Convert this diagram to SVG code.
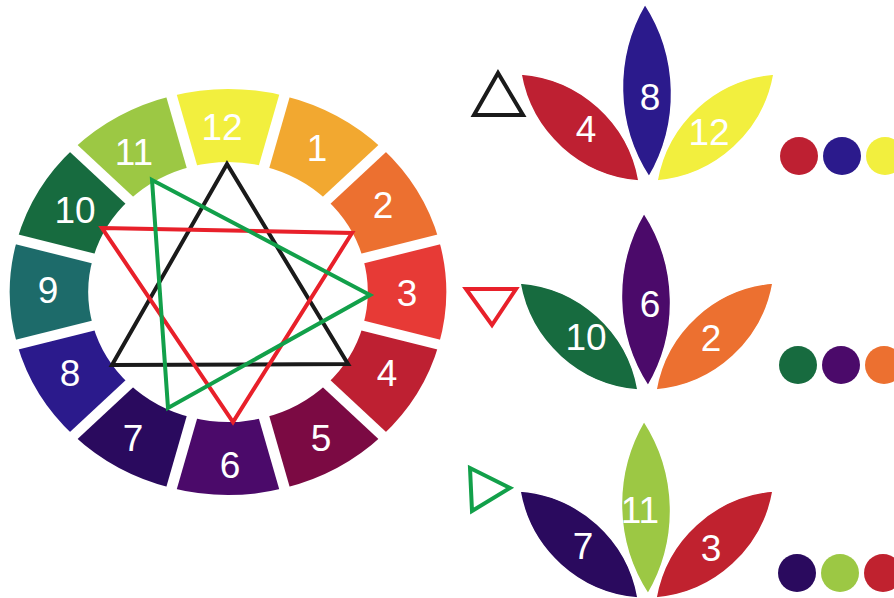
<svg xmlns="http://www.w3.org/2000/svg" width="894" height="598" viewBox="0 0 894 598">
<style>
.lbl{font-family:"Liberation Sans",Arial,sans-serif;font-size:37px;fill:#fff;text-anchor:middle}
.gap{stroke:#fff;stroke-width:10}
.tri{fill:none;stroke-width:4;stroke-linejoin:miter}
.petal{stroke:#fff;stroke-width:1.5}
</style>
<defs>
<path id="pc" d="M645,4 A165,165 0 0 1 649,177 A165,165 0 0 1 645,4Z"/>
<path id="pl" d="M521,74 A130,130 0 0 1 639,181 A130,130 0 0 1 521,74Z"/>
<path id="pr" d="M774,74 A130,130 0 0 1 657,181 A130,130 0 0 1 774,74Z"/>
</defs>
<rect width="894" height="598" fill="#fff"/>
<g id="wheel" transform="translate(228,292) scale(1.075,1)">
<g id="seg12"><path fill="#f2ef3e" d="M-52.54,-196.08 A203,203 0 0 1 52.54,-196.08 L33.65,-125.57 A130,130 0 0 0 -33.65,-125.57Z"/></g>
<g id="seg1"><path fill="#f2a830" d="M52.54,-196.08 A203,203 0 0 1 143.54,-143.54 L91.92,-91.92 A130,130 0 0 0 33.65,-125.57Z"/></g>
<g id="seg2"><path fill="#ec7030" d="M143.54,-143.54 A203,203 0 0 1 196.08,-52.54 L125.57,-33.65 A130,130 0 0 0 91.92,-91.92Z"/></g>
<g id="seg3"><path fill="#e73a36" d="M196.08,-52.54 A203,203 0 0 1 196.08,52.54 L125.57,33.65 A130,130 0 0 0 125.57,-33.65Z"/></g>
<g id="seg4"><path fill="#be2032" d="M196.08,52.54 A203,203 0 0 1 143.54,143.54 L91.92,91.92 A130,130 0 0 0 125.57,33.65Z"/></g>
<g id="seg5"><path fill="#7b0a43" d="M143.54,143.54 A203,203 0 0 1 52.54,196.08 L33.65,125.57 A130,130 0 0 0 91.92,91.92Z"/></g>
<g id="seg6"><path fill="#4b0a6a" d="M52.54,196.08 A203,203 0 0 1 -52.54,196.08 L-33.65,125.57 A130,130 0 0 0 33.65,125.57Z"/></g>
<g id="seg7"><path fill="#2a0a5e" d="M-52.54,196.08 A203,203 0 0 1 -143.54,143.54 L-91.92,91.92 A130,130 0 0 0 -33.65,125.57Z"/></g>
<g id="seg8"><path fill="#2b1a8c" d="M-143.54,143.54 A203,203 0 0 1 -196.08,52.54 L-125.57,33.65 A130,130 0 0 0 -91.92,91.92Z"/></g>
<g id="seg9"><path fill="#1d6b6a" d="M-196.08,52.54 A203,203 0 0 1 -196.08,-52.54 L-125.57,-33.65 A130,130 0 0 0 -125.57,33.65Z"/></g>
<g id="seg10"><path fill="#176b3f" d="M-196.08,-52.54 A203,203 0 0 1 -143.54,-143.54 L-91.92,-91.92 A130,130 0 0 0 -125.57,-33.65Z"/></g>
<g id="seg11"><path fill="#9cc844" d="M-143.54,-143.54 A203,203 0 0 1 -52.54,-196.08 L-33.65,-125.57 A130,130 0 0 0 -91.92,-91.92Z"/></g>
<g id="gaps">
<line class="gap" x1="-54.3" y1="-202.8" x2="54.3" y2="202.8"/>
<line class="gap" x1="54.3" y1="-202.8" x2="-54.3" y2="202.8"/>
<line class="gap" x1="148.5" y1="-148.5" x2="-148.5" y2="148.5"/>
<line class="gap" x1="202.8" y1="-54.3" x2="-202.8" y2="54.3"/>
<line class="gap" x1="202.8" y1="54.3" x2="-202.8" y2="-54.3"/>
<line class="gap" x1="148.5" y1="148.5" x2="-148.5" y2="-148.5"/>
</g>
</g>
<g id="wheel-labels">
<text class="lbl" x="222" y="140">12</text>
<text class="lbl" x="317" y="161">1</text>
<text class="lbl" x="383" y="218">2</text>
<text class="lbl" x="407" y="306">3</text>
<text class="lbl" x="387" y="386">4</text>
<text class="lbl" x="321" y="451">5</text>
<text class="lbl" x="230" y="478">6</text>
<text class="lbl" x="133" y="451">7</text>
<text class="lbl" x="70" y="386">8</text>
<text class="lbl" x="48" y="303">9</text>
<text class="lbl" x="75" y="223">10</text>
<text class="lbl" x="134" y="165">11</text>
</g>
<g id="connectors">
<polygon class="tri" stroke="#1a1a1a" points="227,164 112,365 348,364"/>
<polygon class="tri" stroke="#e8202a" stroke-width="3.5" points="102,228 352,233 233,422"/>
<polygon class="tri" stroke="#12a04a" points="152,180 370,295 168,408"/>
</g>
<g id="row1">
<g id="sym-black"><polygon class="tri" stroke="#1a1a1a" points="498,73 474,115 523,115"/></g>
<g id="petal4"><use href="#pl" class="petal" fill="#be2032"/><text class="lbl" x="586" y="142">4</text></g>
<g id="petal8"><use href="#pc" class="petal" fill="#2b1a8c"/><text class="lbl" x="650" y="110">8</text></g>
<g id="petal12"><use href="#pr" class="petal" fill="#f2ef3e"/><text class="lbl" x="709" y="145">12</text></g>
<g id="dots1"><circle cx="799" cy="156" r="19" fill="#be2032"/><circle cx="842" cy="156" r="19" fill="#2b1a8c"/><circle cx="885" cy="156" r="19" fill="#f2ef3e"/></g>
</g>
<g id="row2">
<g id="sym-red"><polygon class="tri" stroke="#e8202a" points="466,289 516,289 492,325"/></g>
<g id="petal10"><use href="#pl" class="petal" fill="#176b3f" transform="translate(-1,209)"/><text class="lbl" x="586" y="350">10</text></g>
<g id="petal6"><use href="#pc" class="petal" fill="#4b0a6a" transform="translate(-1,209)"/><text class="lbl" x="650" y="317">6</text></g>
<g id="petal2"><use href="#pr" class="petal" fill="#ec7030" transform="translate(-1,209)"/><text class="lbl" x="711" y="351">2</text></g>
<g id="dots2"><circle cx="798" cy="365" r="19" fill="#176b3f"/><circle cx="841" cy="365" r="19" fill="#4b0a6a"/><circle cx="884" cy="365" r="19" fill="#ec7030"/></g>
</g>
<g id="row3">
<g id="sym-green"><polygon class="tri" stroke="#12a04a" points="470,468 472,511 510,488"/></g>
<g id="petal7"><use href="#pl" class="petal" fill="#2a0a5e" transform="translate(-1,417)"/><text class="lbl" x="583" y="559">7</text></g>
<g id="petal11"><use href="#pc" class="petal" fill="#9cc844" transform="translate(-1,417)"/><text class="lbl" x="640" y="523">11</text></g>
<g id="petal3"><use href="#pr" class="petal" fill="#c0222f" transform="translate(-1,417)"/><text class="lbl" x="711" y="561">3</text></g>
<g id="dots3"><circle cx="797" cy="573" r="19" fill="#2a0a5e"/><circle cx="840" cy="573" r="19" fill="#9cc844"/><circle cx="883" cy="573" r="19" fill="#c0222f"/></g>
</g>
</svg>
